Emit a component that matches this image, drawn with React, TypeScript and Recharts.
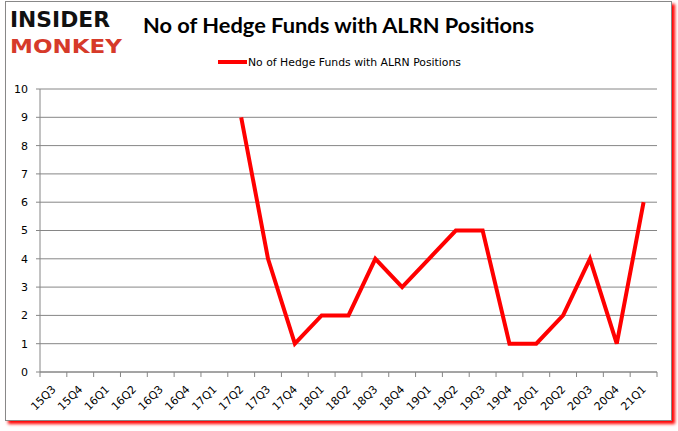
import React from 'react';
import { LineChart, Line, XAxis, YAxis, CartesianGrid } from 'recharts';

const quarters = [
  '15Q3', '15Q4', '16Q1', '16Q2', '16Q3', '16Q4', '17Q1', '17Q2', '17Q3', '17Q4',
  '18Q1', '18Q2', '18Q3', '18Q4', '19Q1', '19Q2', '19Q3', '19Q4', '20Q1', '20Q2',
  '20Q3', '20Q4', '21Q1',
];
const hedgeFunds: (number | null)[] = [
  null, null, null, null, null, null, null, 9, 4, 1,
  2, 2, 4, 3, 4, 5, 5, 1, 1, 2,
  4, 1, 6,
];
const yTicks = [0, 1, 2, 3, 4, 5, 6, 7, 8, 9, 10];

const seriesName = 'No of Hedge Funds with ALRN Positions';

const data = quarters.map((q, i) => ({ quarter: q, funds: hedgeFunds[i] }));

const W = 678;
const H = 431;
const margin = { top: 89, right: 21, bottom: 0, left: 0 };
const yAxisWidth = 40;
const step = (W - margin.right - yAxisWidth) / quarters.length;

const QuarterTick = (props: any) => {
  const { x, y, payload, index } = props;
  const isLast = index === quarters.length - 1;
  const ax = x + 3;
  const ay = y + 16;
  return (
    <g>
      <line x1={x - step / 2} x2={x - step / 2} y1={y - 2} y2={y + 3} stroke="#868686" />
      {isLast && (
        <line x1={x + step / 2} x2={x + step / 2} y1={y - 2} y2={y + 3} stroke="#868686" />
      )}
      <text
        x={ax}
        y={ay}
        transform={`rotate(-45, ${ax}, ${ay})`}
        textAnchor="end"
        fontSize={11}
        fontFamily="DejaVu Sans"
        fill="#000"
      >
        {payload.value}
      </text>
    </g>
  );
};

export default function App() {
  return (
    <div style={{ position: 'absolute', left: 0, top: 0, width: W, height: H, background: '#fff' }}>
      <div
        style={{
          position: 'absolute',
          left: 5,
          top: 1,
          width: 665,
          height: 418,
          border: '1px solid #888',
          boxShadow: '3px 3px 3px #ff0000',
          background: '#fff',
        }}
      />
      <div style={{ position: 'absolute', left: 0, top: 0 }}>
        <LineChart width={W} height={H} data={data} margin={margin}>
          <CartesianGrid vertical={false} stroke="#868686" />
          <XAxis
            dataKey="quarter"
            scale="band"
            interval={0}
            height={59}
            tickLine={false}
            tickSize={0}
            axisLine={{ stroke: '#868686' }}
            tick={<QuarterTick />}
          />
          <YAxis
            domain={[0, 10]}
            ticks={yTicks}
            width={yAxisWidth}
            tickSize={4}
            tickMargin={8}
            interval={0}
            axisLine={{ stroke: '#868686' }}
            tickLine={{ stroke: '#868686' }}
            tick={{ fontSize: 11, fontFamily: 'DejaVu Sans', fill: '#000' }}
          />
          <Line
            type="linear"
            dataKey="funds"
            name={seriesName}
            stroke="#ff0000"
            strokeWidth={4}
            dot={false}
            isAnimationActive={false}
          />
        </LineChart>
      </div>
      <svg
        width={W}
        height={H}
        style={{ position: 'absolute', left: 0, top: 0, pointerEvents: 'none' }}
      >
        <text x={10} y={27} fontFamily="DejaVu Sans" fontWeight={900} fontSize={22}
          fill="#111" textLength={100} lengthAdjust="spacingAndGlyphs">INSIDER</text>
        <text x={10} y={53} fontFamily="DejaVu Sans" fontWeight={900} fontSize={20}
          fill="#d63a2a" textLength={112} lengthAdjust="spacingAndGlyphs">MONKEY</text>
        <text x={143} y={33} fontFamily="Lato" fontWeight={700} fontSize={21}
          fill="#000" textLength={391} lengthAdjust="spacingAndGlyphs">{seriesName}</text>
        <line x1={218} x2={247} y1={62} y2={62} stroke="#ff0000" strokeWidth={4} />
        <text x={248} y={66} fontFamily="DejaVu Sans" fontSize={11}
          fill="#000" textLength={213} lengthAdjust="spacingAndGlyphs">{seriesName}</text>
      </svg>
    </div>
  );
}
